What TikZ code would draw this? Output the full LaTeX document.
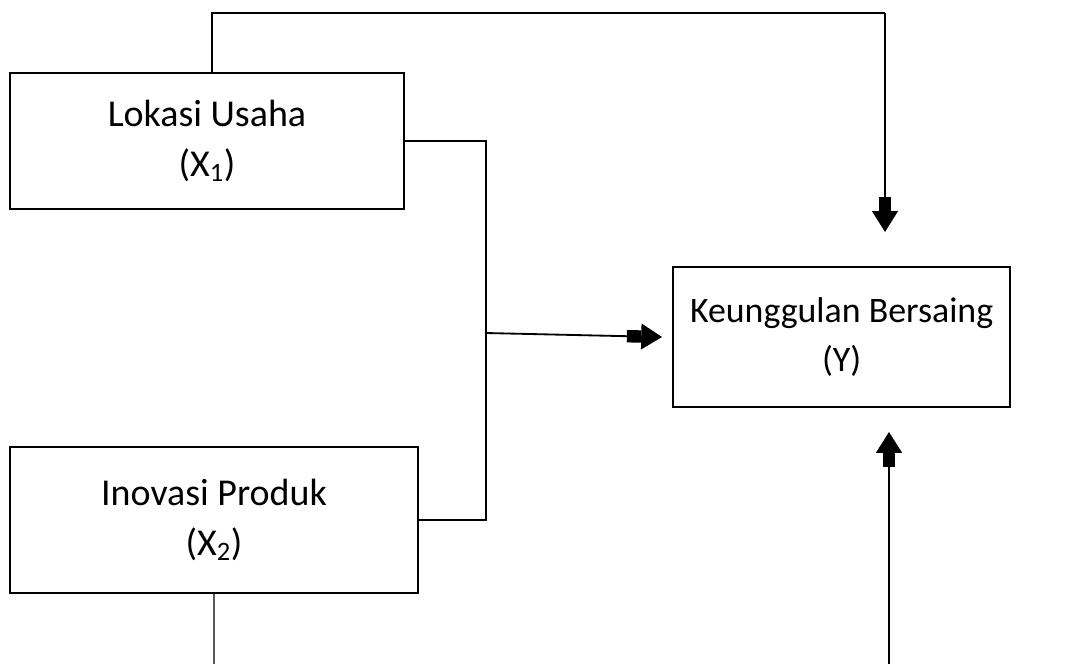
\documentclass[tikz,border=0pt]{standalone}
\usepackage{fontspec}
\setmainfont{Carlito}
\usetikzlibrary{arrows.meta}

\begin{document}
\begin{tikzpicture}[block/.style={rectangle, draw, line width=1.5pt, align=center, font=\fontsize{27}{35.6}\selectfont}, link/.style={line width=0.8pt}, panah/.style={line width=1.3pt, -{Rectangle[length=3.6mm,width=3.1mm]Triangle[length=5.2mm,width=6.4mm]}}]

  \useasboundingbox (0,0) rectangle (26.7,16.6);

  \node[block, minimum width=9.85cm, minimum height=3.4cm] (lokasi) at (5.175,13.075) {Lokasi Usaha\\(X\textsubscript{1})};
  \node[block, below of=lokasi, node distance=9.475cm, xshift=0.175cm, minimum width=10.2cm, minimum height=3.65cm] (inovasi) {Inovasi Produk\\(X\textsubscript{2})};
  \node[block, minimum width=8.425cm, minimum height=3.5cm, font=\fontsize{25.5}{35}\selectfont] (keunggulan) at (21.04,8.175) {Keunggulan Bersaing\\(Y)};

  \coordinate (topcorner) at (22.125,16.275);
  \coordinate (toptip) at (22.125,10.8);
  \coordinate (merge) at (12.125,8.275);
  \coordinate (bawahkiri) at (5.35,0);
  \coordinate (bawahkanan) at (22.225,0);
  \coordinate (bawahtip) at (22.225,5.8);

  \draw[link] ([xshift=0.125cm]lokasi.north) |- (topcorner);
  \draw[panah] (topcorner) -- (toptip);
  \draw[link] (lokasi.east) -- ++(2.025,0) |- (inovasi.east);
  \draw[panah] (merge) -- ([xshift=-0.25cm]keunggulan.west);
  \draw[link] (inovasi.south) -- (bawahkiri);
  \draw[panah, line width=1.8pt] (bawahkanan) -- (bawahtip);
\end{tikzpicture}
\end{document}
